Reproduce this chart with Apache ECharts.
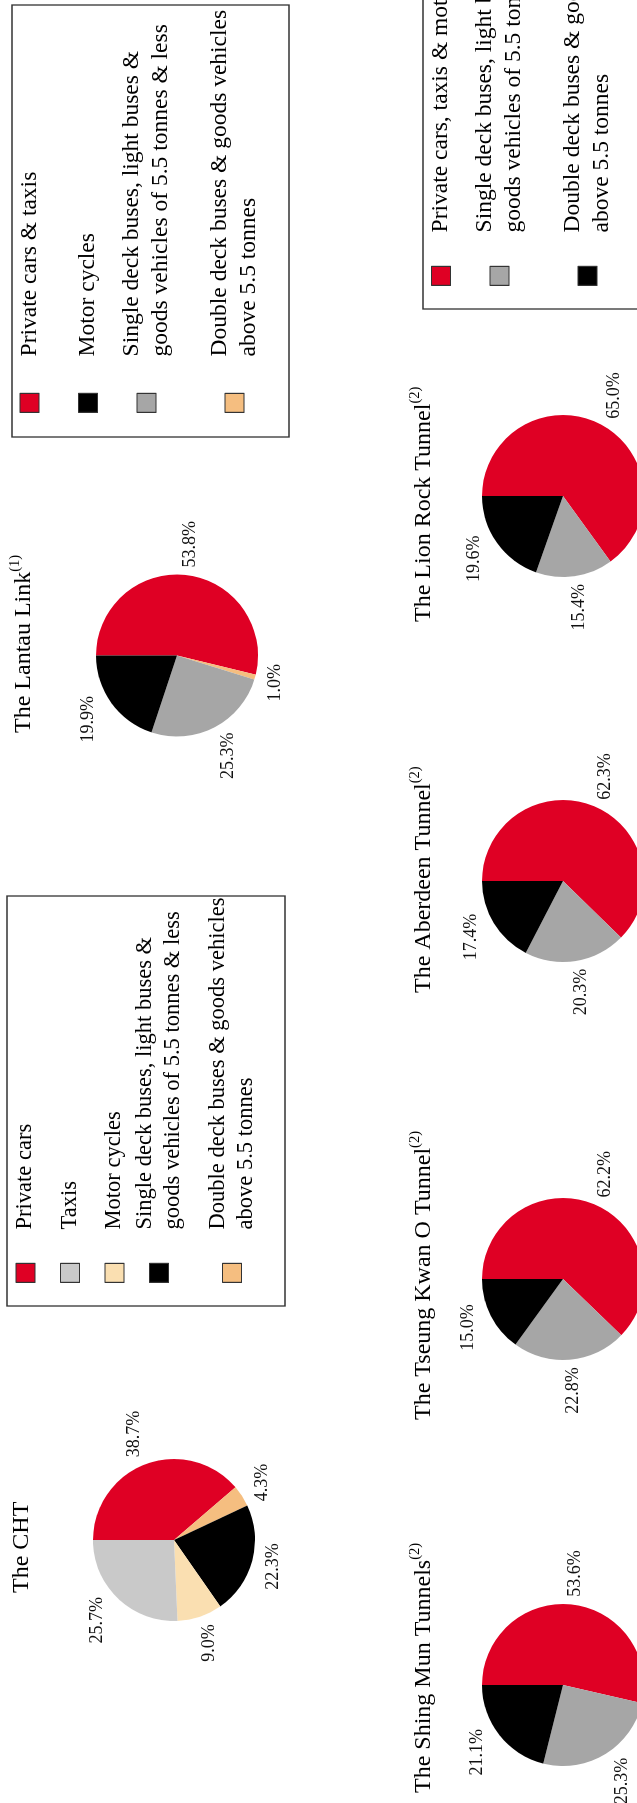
<!DOCTYPE html>
<html>
<head>
<meta charset="utf-8">
<script src="https://cdn.jsdelivr.net/npm/echarts@6/dist/echarts.min.js"></script>
<style>
html, body { margin: 0; padding: 0; width: 637px; height: 1803px; overflow: hidden; background: #ffffff; }
#chart { position: absolute; left: 0; top: 0; width: 1803px; height: 637px;
  transform-origin: 0 0; transform: translate(0, 1803px) rotate(-90deg); }
</style>
</head>
<body>
<div id="chart"></div>
<script>
// ---------------- DATA ----------------
const N_PRIVATE = 'Private cars';
const N_TAXIS = 'Taxis';
const N_MOTOR = 'Motor cycles';
const N_SINGLE = 'Single deck buses, light buses &\ngoods vehicles of 5.5 tonnes & less';
const N_DOUBLE = 'Double deck buses & goods vehicles\nabove 5.5 tonnes';
const N_PRIVATE_TAXIS = 'Private cars & taxis';
const N_PRIVATE_TAXIS_MOTOR = 'Private cars, taxis & motor cycles';

// slice order: clockwise from 12 o'clock
const chtCategories = [N_PRIVATE, N_DOUBLE, N_SINGLE, N_MOTOR, N_TAXIS];
const chtValues = [38.7, 4.3, 22.3, 9.0, 25.7];

const lantauCategories = [N_PRIVATE_TAXIS, N_DOUBLE, N_SINGLE, N_MOTOR];
const lantauValues = [53.8, 1.0, 25.3, 19.9];

const tunnelCategories = [N_PRIVATE_TAXIS_MOTOR, N_SINGLE, N_DOUBLE];
const shingMunValues = [53.6, 25.3, 21.1];
const tseungKwanOValues = [62.2, 22.8, 15.0];
const aberdeenValues = [62.3, 20.3, 17.4];
const lionRockValues = [65.0, 15.4, 19.6];

const pieTitles = ['The CHT', 'The Lantau Link', 'The Shing Mun Tunnels',
  'The Tseung Kwan O Tunnel', 'The Aberdeen Tunnel', 'The Lion Rock Tunnel'];
const pieNotes = ['', '(1)', '(2)', '(2)', '(2)', '(2)'];

const legendCHT = [N_PRIVATE, N_TAXIS, N_MOTOR, N_SINGLE, N_DOUBLE];
const legendLantau = [N_PRIVATE_TAXIS, N_MOTOR, N_SINGLE, N_DOUBLE];
const legendTunnels = [N_PRIVATE_TAXIS_MOTOR, N_SINGLE, N_DOUBLE];

// ---------------- STYLE ----------------
const RED = '#DF0024', LIGHTGRAY = '#C9C9C9', WHEAT = '#FADFB1', ORANGE = '#F5BE80',
      MIDGRAY = '#A6A6A6', BLACK = '#000000';
const colorsCHT = { [N_PRIVATE]: RED, [N_TAXIS]: LIGHTGRAY, [N_MOTOR]: WHEAT, [N_SINGLE]: BLACK, [N_DOUBLE]: ORANGE };
const colorsLantau = { [N_PRIVATE_TAXIS]: RED, [N_MOTOR]: BLACK, [N_SINGLE]: MIDGRAY, [N_DOUBLE]: ORANGE };
const colorsTunnels = { [N_PRIVATE_TAXIS_MOTOR]: RED, [N_SINGLE]: MIDGRAY, [N_DOUBLE]: BLACK };

const FONT = "'Liberation Serif', 'Times New Roman', serif";
const RADIUS = 81;
const LABEL_GAP = 7;

// layout (landscape coordinates, the sheet is rotated afterwards)
const pies = [
  { cats: chtCategories, vals: chtValues, colors: colorsCHT, center: [263, 174], titleLeft: 210, titleTop: 6 },
  { cats: lantauCategories, vals: lantauValues, colors: colorsLantau, center: [1147.5, 177], titleLeft: 1070, titleTop: 8 },
  { cats: tunnelCategories, vals: shingMunValues, colors: colorsTunnels, center: [118, 563], titleLeft: 10, titleTop: 407.5 },
  { cats: tunnelCategories, vals: tseungKwanOValues, colors: colorsTunnels, center: [524, 563], titleLeft: 383, titleTop: 407.5 },
  { cats: tunnelCategories, vals: aberdeenValues, colors: colorsTunnels, center: [922, 563], titleLeft: 810, titleTop: 407.5 },
  { cats: tunnelCategories, vals: lionRockValues, colors: colorsTunnels, center: [1307, 563], titleLeft: 1181, titleTop: 407.5 }
];

const legends = [
  { names: legendCHT, colors: colorsCHT, markerLeft: 520, firstCenter: 25.5, pitch: 44.5, lh: 28.5, fontSize: 22.5, textPad: 29,
    box: [497, 7, 410, 278] },
  { names: legendLantau, colors: colorsLantau, markerLeft: 1390, firstCenter: 29.5, pitch: 58.5, lh: 29.5, fontSize: 23.5, textPad: 32,
    box: [1366, 12, 432, 277] },
  { names: legendTunnels, colors: colorsTunnels, markerLeft: 1517, firstCenter: 441, pitch: 58.5, lh: 29.5, fontSize: 23.5, textPad: 29,
    box: [1494, 423, 432, 218.5] }
];
const MARK = 19;

// ---------------- BUILD ----------------
const chart = echarts.init(document.getElementById('chart'), null, { renderer: 'canvas', width: 1803, height: 637 });

function makeLabelLayout(pie) {
  return function (p) {
    const cx = pie.center[0], cy = pie.center[1];
    if (!(p.labelLinePoints && p.labelLinePoints[0])) { return {}; }
    const x0 = p.labelLinePoints[0][0], y0 = p.labelLinePoints[0][1];
    let dx = x0 - cx, dy = y0 - cy;
    const len = Math.hypot(dx, dy) || 1;
    dx /= len; dy /= len;
    const w = p.labelRect.width, h = p.labelRect.height;
    const d = LABEL_GAP + Math.abs(dx) * w / 2 + Math.abs(dy) * h / 2;
    return { x: x0 + dx * d, y: y0 + dy * d, align: 'center', verticalAlign: 'middle' };
  };
}

const series = pies.map(function (pie) {
  return {
    type: 'pie',
    center: pie.center,
    radius: RADIUS,
    startAngle: 90,
    clockwise: true,
    avoidLabelOverlap: false,
    silent: true,
    animation: false,
    emphasis: { disabled: true },
    itemStyle: { borderWidth: 0 },
    label: {
      show: true, position: 'outside', color: '#111', fontFamily: FONT, fontSize: 18, lineHeight: 17,
      formatter: function (p) { return p.value.toFixed(1) + '%'; }
    },
    labelLine: { show: true, length: 6, length2: 0, lineStyle: { opacity: 0, width: 0 } },
    labelLayout: makeLabelLayout(pie),
    data: pie.cats.map(function (n, i) { return { name: n, value: pie.vals[i], itemStyle: { color: pie.colors[n] } }; })
  };
});

const titles = pies.map(function (pie, i) {
  const txt = '{m|' + pieTitles[i] + '}' + (pieNotes[i] ? '{s|' + pieNotes[i] + '}' : '');
  return {
    text: txt, left: pie.titleLeft, top: pie.titleTop, padding: 0,
    textStyle: {
      fontWeight: 'normal',
      rich: {
        m: { fontFamily: FONT, fontSize: 24, fontWeight: 'normal', lineHeight: 32, color: '#000' },
        s: { fontFamily: FONT, fontSize: 14.5, fontWeight: 'normal', lineHeight: 15, color: '#000', verticalAlign: 'top' }
      }
    }
  };
});

const legendOpts = [];
const graphics = [];
legends.forEach(function (lg) {
  let center = lg.firstCenter;
  lg.names.forEach(function (name) {
    const lines = name.split('\n').length;
    const padTop = (lines - 1) * lg.lh;
    const H = lines * lg.lh + padTop;
    const markerTop = center - MARK / 2;
    const boundTop = markerTop + Math.min(0, MARK / 2 - H / 2);
    legendOpts.push({
      show: true, orient: 'vertical', left: lg.markerLeft, top: boundTop, padding: 0, itemGap: 0,
      itemWidth: MARK, itemHeight: MARK, selectedMode: false, icon: 'rect',
      data: [{ name: name, itemStyle: { color: lg.colors[name], borderColor: '#333333', borderWidth: 1.2 } }],
      textStyle: { fontFamily: FONT, fontSize: lg.fontSize, lineHeight: lg.lh, color: '#000', padding: [padTop, 0, 0, lg.textPad] }
    });
    center += lg.pitch + (lines - 1) * lg.lh;
  });
  graphics.push({
    type: 'rect', z: -1, silent: true,
    shape: { x: lg.box[0], y: lg.box[1], width: lg.box[2], height: lg.box[3] },
    style: { fill: 'none', stroke: '#333333', lineWidth: 1.3 }
  });
});

chart.setOption({
  backgroundColor: '#ffffff',
  animation: false,
  title: titles,
  legend: legendOpts,
  graphic: graphics,
  series: series
});
</script>
</body>
</html>
